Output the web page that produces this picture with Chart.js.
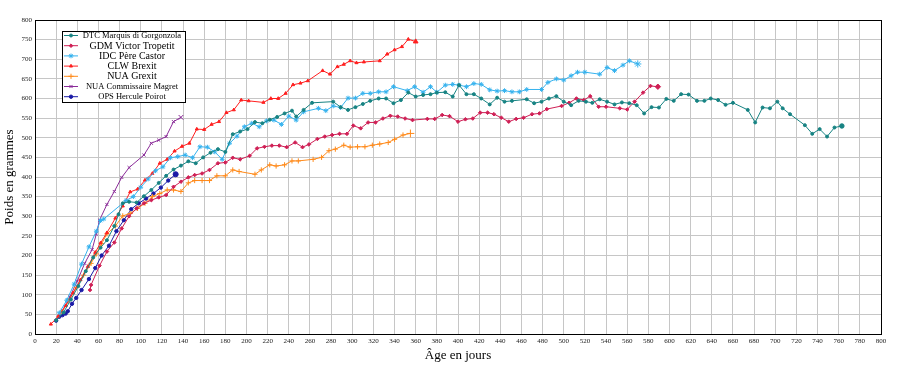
<!DOCTYPE html>
<html>
<head>
<meta charset="utf-8">
<script src="https://cdn.jsdelivr.net/npm/chart.js@4.4.1/dist/chart.umd.min.js"></script>
<style>
  html, body { margin: 0; background: #fff; }
  #wrap { width: 900px; height: 366px; }
</style>
</head>
<body>
<div id="wrap"><canvas id="weightChart"></canvas></div>
<script>
const dtcDays = [20, 27, 34, 41, 48, 55, 62, 68, 75, 79, 83, 89, 96, 103, 110, 117, 124, 131, 138, 145, 152, 159, 166, 173, 180, 187, 194, 201, 208, 215, 222, 229, 236, 243, 247, 254, 262, 282, 289, 296, 303, 310, 317, 325, 332, 339, 346, 353, 360, 367, 374, 380, 388, 395, 401, 408, 415, 422, 430, 437, 444, 451, 465, 472, 479, 486, 493, 500, 507, 514, 521, 527, 534, 541, 548, 555, 562, 569, 576, 583, 590, 597, 604, 611, 618, 626, 633, 639, 646, 653, 660, 674, 681, 688, 695, 702, 707, 714, 728, 735, 742, 749, 756, 763];
const dtcWeights = [35, 55, 88, 122, 160, 195, 220, 239, 275, 305, 333, 337, 335, 351, 367, 385, 403, 419, 429, 440, 435, 450, 462, 471, 464, 509, 516, 522, 540, 537, 546, 553, 562, 569, 554, 571, 589, 592, 578, 571, 578, 586, 594, 600, 600, 588, 596, 615, 605, 609, 611, 615, 616, 605, 634, 611, 611, 600, 585, 602, 592, 594, 598, 588, 592, 600, 606, 592, 583, 594, 592, 589, 598, 592, 585, 590, 588, 583, 562, 578, 577, 599, 594, 611, 610, 594, 594, 600, 596, 584, 589, 571, 539, 577, 575, 592, 575, 560, 532, 510, 522, 503, 526, 530];

const gdmDays = [52, 53, 61, 68, 75, 82, 89, 96, 103, 110, 117, 124, 131, 138, 145, 151, 158, 165, 173, 180, 187, 194, 203, 210, 217, 224, 231, 238, 246, 253, 259, 267, 274, 281, 288, 295, 301, 308, 315, 322, 329, 336, 343, 350, 357, 371, 378, 385, 392, 400, 407, 414, 421, 428, 434, 441, 448, 455, 462, 470, 477, 484, 498, 505, 512, 519, 525, 533, 540, 553, 560, 567, 575, 582, 589];
const gdmWeights = [112, 125, 174, 210, 233, 269, 300, 320, 333, 341, 348, 354, 375, 388, 399, 405, 409, 418, 435, 437, 449, 445, 454, 473, 477, 480, 480, 476, 488, 476, 483, 497, 503, 507, 510, 510, 531, 524, 539, 539, 549, 556, 554, 549, 545, 548, 548, 558, 555, 541, 547, 549, 564, 564, 560, 551, 541, 548, 551, 560, 562, 573, 581, 589, 600, 596, 606, 579, 579, 575, 572, 592, 615, 632, 630];

const idcDays = [23, 30, 37, 44, 51, 58, 62, 65, 86, 93, 100, 107, 114, 121, 128, 135, 142, 149, 156, 163, 170, 177, 184, 191, 198, 205, 212, 219, 226, 233, 240, 247, 254, 268, 275, 282, 289, 296, 303, 310, 317, 325, 332, 339, 352, 359, 367, 374, 380, 388, 395, 401, 408, 415, 422, 430, 437, 444, 451, 458, 465, 479, 485, 493, 500, 507, 513, 520, 534, 541, 548, 556, 562, 570];
const idcWeights = [54, 86, 127, 178, 222, 262, 289, 293, 340, 350, 374, 395, 416, 426, 449, 452, 456, 449, 477, 476, 464, 445, 486, 504, 528, 537, 528, 543, 545, 534, 555, 545, 566, 575, 569, 581, 577, 601, 601, 613, 613, 617, 617, 630, 620, 630, 616, 630, 616, 634, 636, 634, 630, 638, 636, 622, 619, 620, 617, 617, 623, 623, 641, 650, 647, 658, 667, 667, 662, 679, 671, 685, 696, 688];

const clwDays = [15, 22, 29, 36, 43, 50, 57, 62, 68, 76, 83, 90, 97, 104, 111, 118, 125, 132, 139, 146, 153, 160, 167, 174, 181, 188, 195, 202, 216, 223, 230, 237, 244, 251, 258, 272, 279, 286, 292, 298, 304, 311, 326, 333, 340, 347, 353, 360];
const clwWeights = [25, 45, 72, 105, 138, 172, 208, 232, 258, 295, 326, 362, 369, 392, 409, 435, 445, 466, 478, 486, 522, 521, 534, 541, 564, 571, 596, 594, 590, 600, 600, 613, 635, 639, 645, 671, 662, 681, 687, 696, 691, 693, 696, 713, 724, 732, 751, 745];

const grexitDays = [25, 32, 39, 46, 53, 58, 63, 68, 76, 83, 90, 97, 104, 111, 118, 125, 131, 138, 145, 151, 158, 165, 172, 180, 187, 193, 208, 214, 222, 228, 236, 243, 249, 263, 271, 278, 284, 292, 298, 305, 312, 319, 326, 334, 340, 348, 355];
const grexitWeights = [55, 85, 118, 150, 180, 204, 230, 255, 275, 301, 307, 320, 333, 350, 358, 367, 367, 363, 385, 391, 391, 391, 403, 403, 418, 414, 407, 418, 431, 428, 431, 441, 441, 445, 450, 467, 471, 481, 476, 477, 477, 481, 484, 488, 496, 507, 511];

const magretDays = [26, 33, 40, 47, 54, 58, 61, 68, 75, 82, 89, 103, 110, 117, 124, 131, 138];
const magretWeights = [60, 95, 135, 180, 215, 255, 290, 330, 363, 399, 424, 456, 486, 494, 503, 541, 552];

const opsDays = [20, 23, 26, 29, 31, 35, 39, 44, 51, 57, 63, 70, 77, 84, 91, 98, 105, 112, 119, 126, 133];
const opsWeights = [34, 44, 48, 52, 58, 77, 92, 112, 140, 168, 200, 225, 262, 290, 318, 333, 345, 358, 373, 391, 407];

const serif = 'Liberation Serif, DejaVu Serif, serif';

function series(label, days, weights, color, pointStyle, radius) {
  return {
    label: label,
    data: days.map((d, i) => ({ x: d, y: weights[i] })),
    borderColor: color,
    backgroundColor: color,
    borderWidth: 1,
    pointStyle: pointStyle,
    markSize: radius,
    // last measurement drawn a bit bigger, as in the original
    pointRadius: ctx => (ctx.dataIndex === days.length - 1 ? radius * 1.5 : radius),
    pointBorderWidth: 1,
    tension: 0
  };
}

// legend drawn inside the plot, like the original figure
const legendSizes = [8.5, 10, 10, 10, 10, 8.5, 8.5];
const boxLegend = {
  id: 'boxLegend',
  afterDraw(chart) {
    const ctx = chart.ctx;
    const area = chart.chartArea;
    ctx.save();
    ctx.strokeStyle = '#000';
    ctx.lineWidth = 1;
    ctx.strokeRect(area.left + 0.5, area.top + 0.5, area.right - area.left, area.bottom - area.top);

    const x0 = 62, y0 = 31, w = 123, h = 71;
    ctx.fillStyle = '#fff';
    ctx.fillRect(x0, y0, w, h);
    ctx.strokeRect(x0 + 0.5, y0 + 0.5, w, h);
    chart.data.datasets.forEach((ds, i) => {
      const y = 35.5 + i * 10.2;
      ctx.strokeStyle = ds.borderColor;
      ctx.lineWidth = 1;
      ctx.beginPath();
      ctx.moveTo(64, y);
      ctx.lineTo(78, y);
      ctx.stroke();
      if (Chart.helpers && Chart.helpers.drawPoint) {
        ctx.fillStyle = ds.backgroundColor;
        Chart.helpers.drawPoint(ctx, { pointStyle: ds.pointStyle, radius: ds.markSize, rotation: 0, borderWidth: 1 }, 71, y);
      }
      ctx.fillStyle = '#000';
      ctx.font = legendSizes[i] + 'px ' + serif;
      ctx.textAlign = 'center';
      ctx.textBaseline = 'middle';
      ctx.fillText(ds.label, 132, y + 0.5);
    });
    ctx.restore();
  }
};

const axisTitle = text => ({ display: true, text: text, color: '#000', font: { family: serif, size: 13 }, padding: { top: 2, bottom: 3 } });

new Chart(document.getElementById('weightChart').getContext('2d'), {
  type: 'line',
  data: {
    datasets: [
      series('DTC Marquis di Gorgonzola', dtcDays, dtcWeights, '#178383', 'circle', 1.5),
      series('GDM Victor Tropetit', gdmDays, gdmWeights, '#cf1f55', 'rectRot', 1.8),
      series('IDC Père Castor', idcDays, idcWeights, '#35b2ee', 'star', 2.4),
      series('CLW Brexit', clwDays, clwWeights, '#ff1f1f', 'triangle', 1.8),
      series('NUA Grexit', grexitDays, grexitWeights, '#ff8a1a', 'cross', 2.6),
      series('NUA Commissaire Magret', magretDays, magretWeights, '#8a2b98', 'crossRot', 2.2),
      series('OPS Hercule Poirot', opsDays, opsWeights, '#1a1aa6', 'circle', 1.7)
    ]
  },
  options: {
    responsive: true,
    maintainAspectRatio: false,
    animation: false,
    layout: { padding: { top: 20, right: 19, left: 0, bottom: 0 } },
    plugins: {
      legend: { display: false },
      tooltip: { enabled: false }
    },
    scales: {
      x: {
        type: 'linear',
        min: 0,
        max: 800,
        ticks: { stepSize: 20, autoSkip: false, maxRotation: 0, color: '#222', padding: 3, font: { family: serif, size: 7 } },
        grid: { color: '#c6c6c6', drawTicks: false },
        border: { color: '#000' },
        title: axisTitle('Âge en jours'),
        afterFit: scale => { scale.height = 32; }
      },
      y: {
        min: 0,
        max: 800,
        ticks: { stepSize: 50, color: '#222', padding: 3, font: { family: serif, size: 7 } },
        grid: { color: '#c6c6c6', drawTicks: false },
        border: { color: '#000' },
        title: axisTitle('Poids en grammes'),
        afterFit: scale => { scale.width = 35; }
      }
    }
  },
  plugins: [boxLegend]
});
</script>
</body>
</html>
